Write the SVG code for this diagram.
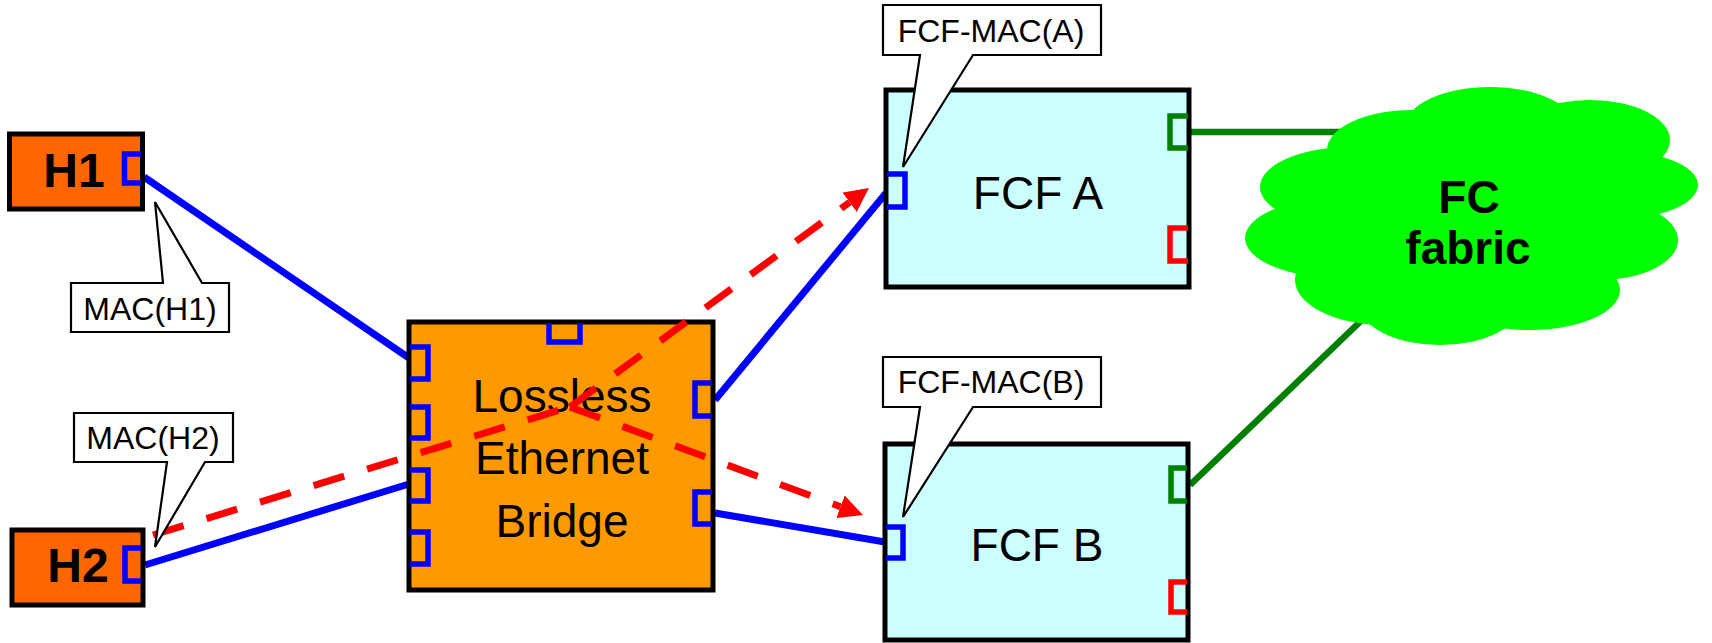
<svg xmlns="http://www.w3.org/2000/svg" width="1712" height="643" viewBox="0 0 1712 643">
<defs>
<style>
text{font-family:"Liberation Sans",Arial,sans-serif;fill:#000;text-anchor:middle}
.box{stroke:#000;stroke-width:5}
.host{fill:#ff6600}
.bridge{fill:#ff9900}
.fcf{fill:#ccffff}
.port{fill:none;stroke-width:5.5}
.pb{stroke:#0000ff}
.pg{stroke:#008000}
.pr{stroke:#ff0000}
.hl{font-size:48px;font-weight:bold}
.big{font-size:46px}
.fc{font-size:46px;font-weight:bold}
.call{fill:#fff;stroke:#000;stroke-width:2.2;stroke-linejoin:miter}
.ct{font-size:32px}
.lb{fill:none;stroke:#0000ff;stroke-width:7}
.lg{fill:none;stroke:#008000;stroke-width:6.5}
.flow{fill:none;stroke:#ff0000;stroke-width:7;stroke-dasharray:32 24}
</style>
<marker id="ah" markerUnits="userSpaceOnUse" markerWidth="26" markerHeight="24" refX="0" refY="12" orient="auto">
<path d="M0,0 L24,12 L0,24 Z" fill="#ff0000"/>
</marker>
</defs>
<rect width="1712" height="643" fill="#fff"/>

<g id="connectors">
<path class="lb" d="M144,177 L409,358"/>
<path class="lb" d="M145,565 L409,484"/>
<path class="lb" d="M715,400 L886,193"/>
<path class="lb" d="M715,513 L885,542"/>
<path class="lg" d="M1191,132 L1380,132"/>
<path class="lg" d="M1190,485 L1390,293"/>
</g>

<g id="cloud">
<g fill="#00ff00">
<ellipse cx="1490" cy="127" rx="85" ry="40"/>
<ellipse cx="1590" cy="140" rx="80" ry="40"/>
<ellipse cx="1610" cy="185" rx="88" ry="35"/>
<ellipse cx="1600" cy="240" rx="78" ry="40"/>
<ellipse cx="1530" cy="290" rx="90" ry="40"/>
<ellipse cx="1440" cy="305" rx="80" ry="40"/>
<ellipse cx="1385" cy="280" rx="90" ry="45"/>
<ellipse cx="1340" cy="238" rx="95" ry="40"/>
<ellipse cx="1350" cy="187" rx="90" ry="40"/>
<ellipse cx="1412" cy="150" rx="85" ry="40"/>
<ellipse cx="1470" cy="215" rx="170" ry="95"/>
</g>
<text class="fc" x="1469" y="213">FC</text>
<text class="fc" x="1468" y="264">fabric</text>
</g>

<g id="H1">
<rect class="box host" x="9.5" y="134" width="133" height="75"/>
<text class="hl" x="74" y="187">H1</text>
<path class="port pb" d="M141,154 H124.5 V183 H141"/>
</g>

<g id="H2">
<rect class="box host" x="12" y="530" width="131" height="75"/>
<text class="hl" x="78" y="582">H2</text>
<path class="port pb" d="M141,548 H125 V581 H141"/>
</g>

<g id="bridge">
<rect class="box bridge" x="409" y="322" width="304" height="268"/>
<text class="big" x="562" y="412">Lossless</text>
<text class="big" x="562" y="474">Ethernet</text>
<text class="big" x="562" y="537">Bridge</text>
<path class="port pb" d="M410,347 H428 V379 H410"/>
<path class="port pb" d="M410,407 H428 V438 H410"/>
<path class="port pb" d="M410,470 H428 V501 H410"/>
<path class="port pb" d="M410,532 H428 V564 H410"/>
<path class="port pb" d="M549,323 V342 H580 V323"/>
<path class="port pb" d="M712,383 H695 V416 H712"/>
<path class="port pb" d="M712,492 H695 V524 H712"/>
</g>

<g id="FCF_A">
<rect class="box fcf" x="886" y="90" width="303" height="197"/>
<text class="big" x="1038" y="209">FCF A</text>
<path class="port pb" d="M887,174 H905 V207 H887"/>
<path class="port pg" d="M1188,116 H1170 V148 H1188"/>
<path class="port pr" d="M1188,228 H1170 V261 H1188"/>
</g>

<g id="FCF_B">
<rect class="box fcf" x="885" y="444" width="303" height="196"/>
<text class="big" x="1037" y="561">FCF B</text>
<path class="port pb" d="M886,527 H903 V558 H886"/>
<path class="port pg" d="M1187,468 H1171 V501 H1187"/>
<path class="port pr" d="M1187,582 H1171 V612 H1187"/>
</g>

<g id="flows">
<path class="flow" d="M153,535 L566,408"/>
<path class="flow" d="M570,407 L849.6,202.2" marker-end="url(#ah)"/>
<path class="flow" d="M570,407 L840.5,506.7" marker-end="url(#ah)"/>
</g>

<g id="callout_MAC_H1">
<path class="call" d="M71,283 H163 L155,202 L202,283 H229 V332 H71 Z"/>
<text class="ct" x="150" y="320">MAC(H1)</text>
</g>
<g id="callout_MAC_H2">
<path class="call" d="M74,413 H233 V462 H205 L155,547 L167,462 H74 Z"/>
<text class="ct" x="153" y="449">MAC(H2)</text>
</g>
<g id="callout_FCF_MAC_A">
<path class="call" d="M883,5 H1101 V55 H973 L903,167 L920,55 H883 Z"/>
<text class="ct" x="991" y="42">FCF-MAC(A)</text>
</g>
<g id="callout_FCF_MAC_B">
<path class="call" d="M883,357 H1101 V407 H973 L903,517 L920,407 H883 Z"/>
<text class="ct" x="991" y="393">FCF-MAC(B)</text>
</g>
</svg>
